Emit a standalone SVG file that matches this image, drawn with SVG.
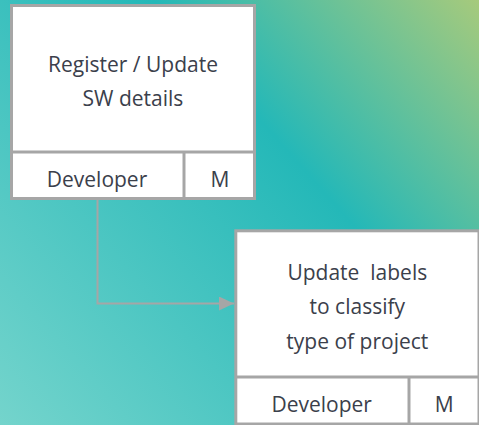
<svg xmlns="http://www.w3.org/2000/svg" width="479" height="425" viewBox="0 0 479 425">
  <defs>
    <linearGradient id="bg" x1="0" y1="425" x2="479" y2="0" gradientUnits="userSpaceOnUse">
      <stop offset="0" stop-color="#74d4cc"/>
      <stop offset="0.62" stop-color="#24b8b8"/>
      <stop offset="1" stop-color="#a6ca7c"/>
    </linearGradient>
    <marker id="arrow" markerWidth="15" markerHeight="14" refX="15" refY="7" orient="auto" markerUnits="userSpaceOnUse">
      <path d="M0,0 L15,7 L0,14 Z" fill="#a6a6a6"/>
    </marker>
    <style>
      .box { fill: #ffffff; stroke: #a6a6a6; stroke-width: 3; }
      .sep { stroke: #a6a6a6; stroke-width: 3; fill: none; }
      .txt { font-family: "Open Sans", "Liberation Sans", sans-serif; font-size: 21px; fill: #3b404b; text-anchor: middle; }
      .conn { stroke: #a6a6a6; stroke-width: 2; fill: none; }
    </style>
  </defs>
  <rect x="0" y="0" width="479" height="425" fill="url(#bg)"/>

  <g id="connectors">
    <path class="conn" d="M97.5,199 L97.5,303.5 L234,303.5" marker-end="url(#arrow)"/>
  </g>

  <g id="node1">
    <rect class="box" x="11.5" y="5.5" width="243" height="193"/>
    <line class="sep" x1="11.5" y1="152" x2="254.5" y2="152"/>
    <line class="sep" x1="184" y1="152" x2="184" y2="198.5"/>
    <text class="txt" x="133" y="71.5">Register / Update</text>
    <text class="txt" x="133" y="106">SW details</text>
    <text class="txt" x="97" y="186.5">Developer</text>
    <text class="txt" x="220" y="186.5">M</text>
  </g>

  <g id="node2">
    <rect class="box" x="235.8" y="230.8" width="243.2" height="193.2"/>
    <line class="sep" x1="235.8" y1="377" x2="479" y2="377"/>
    <line class="sep" x1="409" y1="377" x2="409" y2="424"/>
    <text class="txt" x="357.3" y="280" xml:space="preserve">Update  labels</text>
    <text class="txt" x="357.3" y="314">to classify</text>
    <text class="txt" x="357.3" y="349">type of project</text>
    <text class="txt" x="321.7" y="412.3">Developer</text>
    <text class="txt" x="444.3" y="412.3">M</text>
  </g>
</svg>
